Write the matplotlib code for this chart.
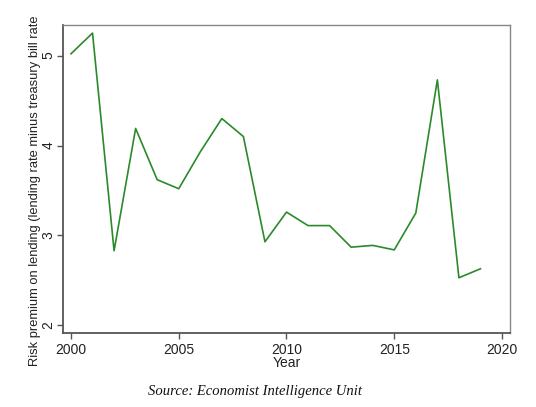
import matplotlib
matplotlib.use("Agg")
import matplotlib.pyplot as plt

# values
years = [2000, 2001, 2002, 2003, 2004, 2005, 2006, 2007, 2008, 2009,
         2010, 2011, 2012, 2013, 2014, 2015, 2016, 2017, 2018, 2019]
risk_premium = [5.02, 5.25, 2.83, 4.19, 3.62, 3.52, 3.93, 4.30, 4.10, 2.93,
                3.26, 3.11, 3.11, 2.87, 2.89, 2.84, 3.25, 4.73, 2.53, 2.63]
x_ticks = [2000, 2005, 2010, 2015, 2020]
y_ticks = [2, 3, 4, 5]

plt.rcParams["font.family"] = ["Liberation Sans", "DejaVu Sans"]

fig = plt.figure(figsize=(5.36, 4.07), dpi=100)
ax = fig.add_axes([63 / 536, 1 - 333 / 407, (510 - 63) / 536, (333 - 25) / 407])

ax.plot(years, risk_premium, color="#2a8a2a", linewidth=1.2)

ax.set_xlim(1999.63, 2020.37)
ax.set_ylim(1.916, 5.34)
ax.set_xticks(x_ticks)
ax.set_yticks(y_ticks)
ax.tick_params(axis="both", direction="out", length=4.5, width=1,
               color="#555555", labelsize=10, labelcolor="#222222")
ax.tick_params(axis="y", pad=1)
ax.tick_params(axis="x", pad=3)
for lab in ax.get_yticklabels():
    lab.set_rotation(90)
    lab.set_va("center")

for side in ["top", "right"]:
    ax.spines[side].set_color("#888888")
    ax.spines[side].set_linewidth(1.0)
for side in ["left", "bottom"]:
    ax.spines[side].set_color("#555555")
    ax.spines[side].set_linewidth(1.3)

ax.set_xlabel("Year", fontsize=10, color="#222222", labelpad=-1)
ax.set_ylabel("Risk premium on lending (lending rate minus treasury bill rate",
              fontsize=9.3, color="#222222")
ax.yaxis.set_label_coords((41 - 63) / 447, (333 - 190.5) / 308)

fig.text(255 / 536, 1 - 392 / 407, "Source: Economist Intelligence Unit",
         ha="center", va="center", fontsize=10.5, style="italic",
         family=["Liberation Serif", "DejaVu Serif"], color="#111111")

fig.savefig("out.png", dpi=100)
